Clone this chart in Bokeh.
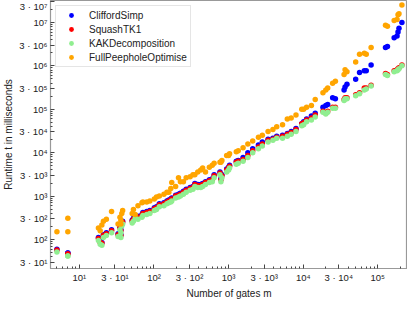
from bokeh.plotting import figure
from bokeh.models import FixedTicker, Range1d, Legend, LegendItem
from bokeh.embed import file_html
from bokeh.resources import INLINE

# ---- data ----
gates = [5, 7, 7, 18, 19, 20, 21, 23, 27, 33, 35, 36, 36, 37, 38,
         51, 53, 56, 61, 69, 71, 80, 88, 101, 108, 118, 136, 149, 158, 168,
         173, 195, 213, 226, 248, 270, 305, 333, 353, 386, 423, 449, 490, 552, 604,
         640, 766, 789, 813, 942, 1000, 1030, 1268, 1346, 1563, 1811, 2104, 2512, 2831, 3381,
         3926, 4416, 5284, 6124, 6904, 8000, 9570, 10140, 11100, 12880, 14490, 18400, 20100, 21300, 24800,
         27000, 35300, 36400, 38600, 50500, 56900, 65900, 70000, 81300, 126800, 134600, 165600, 181100, 186600, 192300,
         210400]

clifford_ms = [60, 48.9, 48.9, 111, 90.3, 85.8, 129, 143, 167, 136, 195, 167, 129, 239, 264,
               278, 308, 359, 342, 378, 419, 441, 464, 541, 570, 664, 699, 774, 815, 858,
               903, 1052, 1108, 1166, 1292, 1431, 1585, 1668, 1945, 1848, 1848, 1945, 2154, 2387, 2512,
               3083, 3594, 2512, 3083, 4190, 4642, 5142, 6310, 6641, 7743, 10000, 12270, 15060, 17560, 20480,
               21540, 23870, 25120, 27830, 30830, 35940, 46420, 51420, 59950, 69900, 81490, 110800, 122700, 129200, 184800,
               175600, 278300, 324500, 378300, 488600, 699000, 774300, 774300, 1052000, 2644000, 2783000, 4410000, 4886000, 5995000, 7356000,
               10000000]

squash_ms = [57, 46.4, 46.4, 105, 85.8, 81.5, 123, 136, 159, 129, 185, 159, 123, 227, 251,
             264, 293, 342, 325, 359, 398, 419, 441, 514, 541, 631, 664, 736, 774, 815,
             858, 1000, 1052, 1108, 1227, 1359, 1506, 1585, 1848, 1756, 1756, 1848, 2048, 2268, 2387,
             2929, 3415, 2387, 2929, 3981, 4410, 4886, 5995, 6310, 6990, 8577, 11080, 13590, 15850, 19450,
             20480, 22680, 23870, 26440, 29290, 34150, 46420, 48860, 56960, 63100, 73560, 90270, 81490, 90270, 110800,
             110800, 166800, 184800, 184800, 215400, 238700, 308300, 308300, 359400, 664100, 631000, 774300, 815000, 857700, 902700,
             1052000]

kak_ms = [51.4, 41.9, 41.9, 95, 77.4, 73.6, 111, 123, 143, 117, 167, 143, 111, 205, 227,
          239, 264, 308, 293, 325, 359, 378, 398, 464, 489, 570, 600, 664, 699, 736,
          774, 903, 950, 1000, 1108, 1227, 1359, 1431, 1668, 1585, 1585, 1668, 1848, 2048, 2154,
          2644, 3083, 2154, 2644, 3594, 3981, 4410, 5412, 5696, 6310, 7743, 10000, 12270, 14310, 17560,
          19450, 21540, 21540, 23870, 26440, 30830, 41900, 44100, 51420, 56960, 66410, 85770, 77430, 85770, 105200,
          105200, 158500, 175600, 175600, 204800, 226800, 278300, 293000, 341500, 631000, 599500, 735600, 774300, 815000, 857700,
          1000000]

peephole_ms = [151, 151, 308, 185, 158.5, 215, 264, 293, 441, 227, 325, 278, 227, 398, 464,
               398, 489, 378, 600, 699, 736, 736, 774, 858, 950, 1000, 1108, 1227, 1227, 1506,
               2048, 1668, 2644, 2154, 2154, 2644, 2783, 3083, 3083, 3594, 3981, 4410, 3594, 4642, 5142,
               5696, 5995, 5995, 6641, 8577, 8577, 9501, 10520, 11080, 12920, 15850, 18480, 22680, 25120, 30830,
               34150, 39810, 44100, 59950, 63100, 73560, 100000, 100000, 110800, 122700, 166800, 238700, 278300, 308300, 398100,
               441000, 631000, 814900, 735600, 1227000, 1848000, 1945000, 1848000, 2644000, 8577000, 8149000, 11080000, 11660000, 15060000, 15850000,
               25120000]

series_names = ["CliffordSimp", "SquashTK1", "KAKDecomposition", "FullPeepholeOptimise"]
series_colors = ["blue", "red", "lightgreen", "orange"]

x_ticks = [10, 30, 100, 300, 1000, 3000, 10000, 30000, 100000]
x_tick_labels = ["10¹", "3 · 10¹", "10²", "3 · 10²", "10³", "3 · 10³", "10⁴", "3 · 10⁴", "10⁵"]
y_ticks = [30, 100, 300, 1000, 3000, 10000, 30000, 100000, 300000,
           1000000, 3000000, 10000000, 30000000]
y_tick_labels = ["3 · 10¹", "10²", "3 · 10²", "10³", "3 · 10³", "10⁴", "3 · 10⁴", "10⁵",
                 "3 · 10⁵", "10⁶", "3 · 10⁶", "10⁷", "3 · 10⁷"]

# ---- figure ----
FONT = "Liberation Sans"
p = figure(width=407, height=301, x_axis_type="log", y_axis_type="log",
           x_range=Range1d(4.1, 2.5e5), y_range=Range1d(21.5, 3.2e7),
           output_backend="svg", toolbar_location=None,
           min_border_left=20, min_border_right=0, min_border_top=0, min_border_bottom=20)

x_minor = [m * 10 ** d for d in range(0, 6) for m in range(2, 10)]
y_minor = [m * 10 ** d for d in range(1, 8) for m in range(2, 10)]

p.xaxis.ticker = FixedTicker(ticks=x_ticks, minor_ticks=x_minor)
p.yaxis.ticker = FixedTicker(ticks=y_ticks, minor_ticks=y_minor)
p.xaxis.major_label_overrides = {t: l for t, l in zip(x_ticks, x_tick_labels)}
p.yaxis.major_label_overrides = {t: l for t, l in zip(y_ticks, y_tick_labels)}

p.xaxis.axis_label = "Number of gates m"
p.yaxis.axis_label = "Runtime t in milliseconds"

for ax in (p.xaxis[0], p.yaxis[0]):
    ax.major_tick_in = 4
    ax.major_tick_out = 0
    ax.minor_tick_in = 2
    ax.minor_tick_out = 0
    ax.axis_line_color = "#999999"
    ax.major_tick_line_color = "#444444"
    ax.minor_tick_line_color = "#444444"
    ax.major_label_text_font = FONT
    ax.major_label_text_font_size = "9.5px"
    ax.major_label_text_color = "#222222"
    ax.major_label_standoff = 3
    ax.axis_label_text_font = FONT
    ax.axis_label_text_font_size = "10px"
    ax.axis_label_text_font_style = "normal"
    ax.axis_label_text_color = "#222222"
    ax.axis_label_standoff = 2

p.xgrid.visible = False
p.ygrid.visible = False
p.outline_line_color = "#999999"
p.outline_line_width = 1.2

items = []
for name, col, ys in zip(series_names, series_colors, [clifford_ms, squash_ms, kak_ms, peephole_ms]):
    r = p.scatter(gates, ys, size=5.5, color=col, line_color=None)
    items.append(LegendItem(label=name, renderers=[r]))

legend = Legend(items=items, location="top_left", margin=5, padding=3,
                spacing=2, glyph_width=24, glyph_height=12, label_height=12,
                label_standoff=6, label_text_font=FONT, label_text_font_size="10px",
                label_text_color="#222222", border_line_color="#cccccc",
                background_fill_alpha=0.85)
p.add_layout(legend)

open("out.html", "w").write(file_html(p, INLINE))
